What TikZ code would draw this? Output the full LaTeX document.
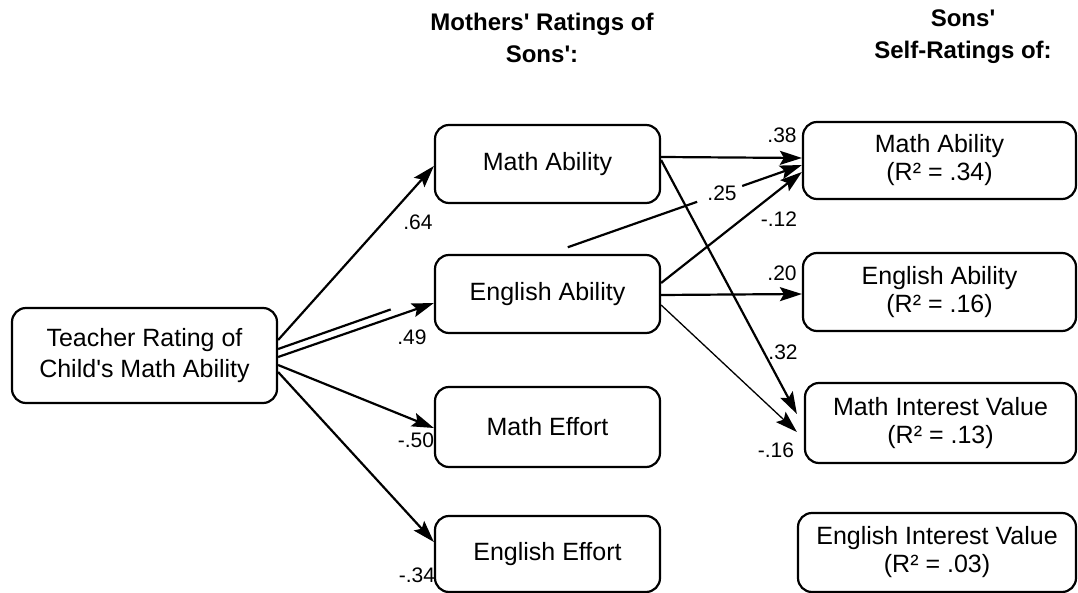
\documentclass[tikz,border=0pt]{standalone}
\usepackage{fontspec}
\setmainfont{Liberation Sans}[Ligatures=TeXOff]
\usetikzlibrary{arrows.meta}
\begin{document}
\begin{tikzpicture}[x=1pt,y=-1pt,
  box/.style={draw, line width=2.2pt, rounded corners=14pt, align=center, inner sep=0pt,
    font=\fontsize{25}{28}\selectfont},
  tip/.style={-{Stealth[length=22pt,width=14pt,inset=4pt]}},
  conn/.style={line width=2.2pt, tip},
  seg/.style={line width=2.2pt},
  coef/.style={font=\fontsize{21}{24}\selectfont, inner sep=0pt},
  head/.style={font=\bfseries\fontsize{24}{32}\selectfont, align=center, inner sep=0pt}]
\useasboundingbox (0,0) rectangle (1078,593);
% headers
\node[head] (h1) at (542,38) {Mothers' Ratings of\\Sons':};
\node[head] (h2) at (963,37) {Sons'\\Self-Ratings of:};
% boxes
\node[box, minimum width=265pt, minimum height=95pt, font=\fontsize{25}{31}\selectfont] (T) at (144.5,355.5) {Teacher Rating of\\Child's Math Ability};
\node[box, minimum width=225pt, minimum height=78pt] (MA) at (547.5,164) {Math Ability};
\node[box, minimum width=225pt, minimum height=78pt] (EA) at (547.5,294) {English Ability};
\node[box, minimum width=225pt, minimum height=80pt] (ME) at (547.5,427) {Math Effort};
\node[box, minimum width=225pt, minimum height=76pt] (EE) at (547.5,554) {English Effort};
\node[box, minimum width=273pt, minimum height=77pt] (SMA) at (939.5,160.5) {Math Ability\\(R² = .34)};
\node[box, minimum width=273pt, minimum height=78pt] (SEA) at (939.5,292) {English Ability\\(R² = .16)};
\node[box, minimum width=271pt, minimum height=80pt] (SMI) at (940.5,423) {Math Interest Value\\(R² = .13)};
\node[box, minimum width=278pt, minimum height=79pt] (SEI) at (937,552.5) {English Interest Value\\(R² = .03)};
% teacher paths
\draw[conn] ([yshift=15.5pt]T.east) -- ([yshift=-2pt]MA.west);
\draw[conn] ([yshift=-1.5pt]T.east) -- ([yshift=-9pt]EA.west);
\draw[conn] ([yshift=-9.5pt]T.east) -- ([yshift=-1pt]ME.west);
\draw[conn] ([yshift=-16.5pt]T.east) -- ([yshift=12pt]EE.west);
% teacher -> sons' math ability (broken line)
\path ([yshift=6.5pt]T.east) -- ([yshift=-4.5pt]SMA.west)
  coordinate[pos=0.215] (p1) coordinate[pos=0.553] (p2)
  coordinate[pos=0.80] (p3) coordinate[pos=0.886] (p4);
\draw[seg] ([yshift=6.5pt]T.east) -- (p1);
\draw[seg] (p2) -- (p3);
\draw[conn] (p4) -- ([yshift=-4.5pt]SMA.west);
% mothers' math ability
\draw[conn] ([yshift=7pt]MA.east) -- ([yshift=2.5pt]SMA.west);
\draw[conn] ([yshift=4pt]MA.east) -- ([xshift=-7pt,yshift=9pt]SMI.west);
% mothers' english ability
\draw[conn] ([yshift=11pt]EA.east) -- ([yshift=-11.5pt]SMA.west);
\draw[conn] ([yshift=-1pt]EA.east) -- ([yshift=-2pt]SEA.west);
\draw[line width=1.3pt, tip] ([yshift=-11pt]EA.east) -- ([xshift=-7pt,yshift=-9pt]SMI.west);
% coefficients
\node[coef] (c1) at (418,222) {.64};
\node[coef] (c2) at (412,337) {.49};
\node[coef] (c3) at (416,440) {-.50};
\node[coef] (c4) at (417,575) {-.34};
\node[coef] (c5) at (782,135) {.38};
\node[coef] (c6) at (722,193) {.25};
\node[coef] (c7) at (779,219) {-.12};
\node[coef] (c8) at (782,273) {.20};
\node[coef] (c9) at (783,352) {.32};
\node[coef] (c10) at (776,450) {-.16};
\end{tikzpicture}
\end{document}
